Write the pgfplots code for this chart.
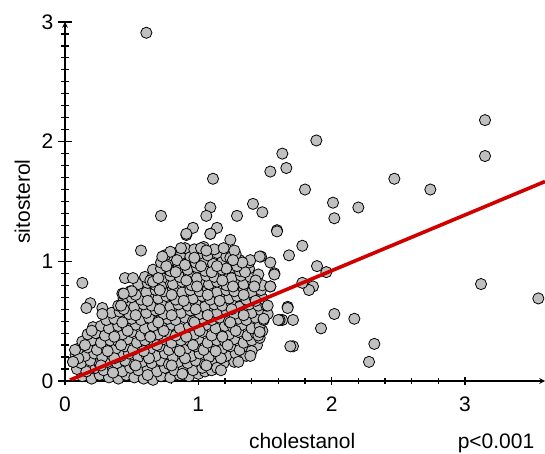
\documentclass[border=0pt]{standalone}
\usepackage{pgfplots}
\pgfplotsset{compat=1.18}
\usepackage{fontspec}
\setmainfont{Liberation Sans}
\definecolor{ptfill}{RGB}{192,192,192}
\definecolor{fitred}{RGB}{208,0,0}
\newcommand\lf{\fontsize{21bp}{25bp}\selectfont}
\pgfplotsset{base/.style={
  at={(65bp,73bp)}, anchor=south west,
  scale only axis, width=480bp, height=359bp,
  xmin=0, xmax=3.6, ymin=0, ymax=3,
  axis line style={-, line width=1.5bp},
  every tick/.style={line width=1.5bp, black},
  every minor tick/.style={line width=1.2bp, black},
  tick align=outside,
  xtick={0,1,2,3}, ytick={0,1,2,3},
  minor x tick num=4, minor y tick num=9,
  /pgf/number format/assume math mode=true,
  tick label style={font=\lf},
  clip=false, clip marker paths=true,
}}
\begin{document}
\begin{tikzpicture}
\useasboundingbox (0,0) rectangle (545bp,454bp);
\begin{axis}[base,
  axis x line=bottom, axis y line=none,
  major tick length=8bp, minor tick length=6bp,
  xticklabel style={anchor=north, inner sep=0pt, yshift=-12bp},
]
\addplot[only marks, mark=*, mark size=5.6bp,
  mark options={fill=ptfill, draw=black, line width=0.8bp}] coordinates {
(0.13,0.04)(0.20,0.02)(0.26,0.05)(0.33,0.03)(0.40,0.02)(0.46,0.05)(0.52,0.03)(0.59,0.02)(0.66,0.01)(0.72,0.04)(0.79,0.03)(0.86,0.05)(0.93,0.04)(1.00,0.06)(1.05,0.08)
(0.09,0.10)(0.16,0.08)(0.23,0.11)(0.29,0.09)(0.36,0.10)(0.43,0.08)(0.49,0.11)(0.55,0.09)(0.62,0.10)(0.69,0.08)(0.75,0.11)(0.82,0.09)(0.89,0.10)(0.96,0.09)(1.03,0.11)(1.10,0.09)(1.16,0.10)
(0.06,0.16)(0.12,0.15)(0.19,0.17)(0.26,0.14)(0.32,0.16)(0.39,0.15)(0.45,0.17)(0.52,0.14)(0.58,0.16)(0.65,0.15)(0.72,0.17)(0.78,0.14)(0.85,0.16)(0.92,0.15)(0.98,0.17)(1.05,0.14)(1.12,0.16)(1.19,0.15)(1.27,0.16)
(0.08,0.22)(0.15,0.21)(0.22,0.23)(0.28,0.20)(0.35,0.22)(0.42,0.21)(0.48,0.23)(0.55,0.20)(0.61,0.22)(0.68,0.21)(0.75,0.23)(0.81,0.20)(0.88,0.22)(0.95,0.21)(1.01,0.23)(1.08,0.20)(1.15,0.22)(1.21,0.21)(1.28,0.23)(1.36,0.21)
(0.10,0.27)(0.17,0.28)(0.24,0.26)(0.31,0.28)(0.38,0.27)(0.45,0.29)(0.51,0.26)(0.58,0.28)(0.64,0.27)(0.71,0.29)(0.78,0.26)(0.84,0.28)(0.91,0.27)(0.98,0.29)(1.04,0.26)(1.11,0.28)(1.18,0.27)(1.24,0.29)(1.31,0.26)(1.38,0.28)(1.44,0.30)
(0.13,0.33)(0.20,0.34)(0.27,0.32)(0.34,0.34)(0.40,0.33)(0.47,0.35)(0.54,0.32)(0.60,0.34)(0.67,0.33)(0.74,0.35)(0.80,0.32)(0.87,0.34)(0.94,0.33)(1.00,0.35)(1.07,0.32)(1.14,0.34)(1.20,0.33)(1.27,0.35)(1.34,0.32)(1.40,0.34)(1.46,0.36)
(0.17,0.39)(0.23,0.40)(0.30,0.38)(0.37,0.40)(0.43,0.39)(0.50,0.41)(0.57,0.38)(0.63,0.40)(0.70,0.39)(0.77,0.41)(0.83,0.38)(0.90,0.40)(0.97,0.39)(1.03,0.41)(1.10,0.38)(1.17,0.40)(1.23,0.39)(1.30,0.41)(1.37,0.38)(1.43,0.40)(1.48,0.42)
(0.21,0.45)(0.27,0.46)(0.33,0.44)(0.40,0.46)(0.46,0.45)(0.53,0.47)(0.60,0.44)(0.66,0.46)(0.73,0.45)(0.80,0.47)(0.86,0.44)(0.93,0.46)(1.00,0.45)(1.06,0.47)(1.13,0.44)(1.20,0.46)(1.26,0.45)(1.33,0.47)(1.40,0.44)(1.46,0.46)
(0.31,0.51)(0.37,0.52)(0.44,0.50)(0.50,0.52)(0.57,0.51)(0.63,0.53)(0.70,0.50)(0.77,0.52)(0.83,0.51)(0.90,0.53)(0.96,0.50)(1.03,0.52)(1.10,0.51)(1.16,0.53)(1.23,0.50)(1.30,0.52)(1.36,0.51)(1.43,0.53)(1.49,0.51)
(0.35,0.57)(0.41,0.58)(0.48,0.56)(0.54,0.58)(0.61,0.57)(0.68,0.59)(0.74,0.56)(0.81,0.58)(0.87,0.57)(0.94,0.59)(1.01,0.56)(1.07,0.58)(1.14,0.57)(1.21,0.59)(1.27,0.56)(1.34,0.58)(1.40,0.57)(1.47,0.59)(1.52,0.56)
(0.40,0.63)(0.46,0.64)(0.52,0.62)(0.59,0.64)(0.65,0.63)(0.72,0.65)(0.79,0.62)(0.85,0.64)(0.92,0.63)(0.98,0.65)(1.05,0.62)(1.12,0.64)(1.18,0.63)(1.25,0.65)(1.31,0.62)(1.38,0.64)(1.45,0.63)(1.51,0.63)
(0.44,0.69)(0.50,0.70)(0.57,0.68)(0.63,0.70)(0.70,0.69)(0.76,0.71)(0.83,0.68)(0.90,0.70)(0.96,0.69)(1.03,0.71)(1.09,0.68)(1.16,0.70)(1.23,0.69)(1.29,0.71)(1.36,0.68)(1.42,0.70)(1.48,0.69)
(0.49,0.75)(0.55,0.76)(0.61,0.74)(0.68,0.76)(0.74,0.75)(0.81,0.77)(0.88,0.74)(0.94,0.76)(1.01,0.75)(1.07,0.77)(1.14,0.74)(1.21,0.76)(1.27,0.75)(1.34,0.77)(1.40,0.74)(1.47,0.76)
(0.55,0.81)(0.62,0.82)(0.68,0.80)(0.75,0.82)(0.81,0.81)(0.88,0.83)(0.95,0.80)(1.01,0.82)(1.08,0.81)(1.14,0.83)(1.21,0.80)(1.28,0.82)(1.34,0.81)(1.41,0.83)(1.48,0.80)(1.54,0.79)
(0.60,0.87)(0.66,0.88)(0.73,0.86)(0.79,0.88)(0.86,0.87)(0.93,0.89)(0.99,0.86)(1.06,0.88)(1.12,0.87)(1.19,0.89)(1.25,0.86)(1.32,0.88)(1.39,0.87)(1.45,0.89)
(0.66,0.93)(0.72,0.94)(0.79,0.92)(0.85,0.94)(0.92,0.93)(0.99,0.95)(1.05,0.92)(1.12,0.94)(1.18,0.93)(1.25,0.95)(1.31,0.92)(1.38,0.94)
(0.72,0.99)(0.78,1.00)(0.85,0.98)(0.92,1.00)(0.98,0.99)(1.05,1.01)(1.11,0.98)(1.18,1.00)(1.25,0.99)(1.31,1.01)(1.38,0.99)
(0.80,1.05)(0.87,1.06)(0.94,1.04)(1.00,1.06)(1.07,1.05)(1.14,1.07)(1.21,1.04)(1.28,1.06)
(0.90,1.11)(0.97,1.10)(1.04,1.12)(1.12,1.10)(1.19,1.11)
(0.36,0.07)(0.62,0.05)(0.88,0.06)
(0.27,0.13)(0.53,0.13)(0.80,0.13)(1.06,0.13)
(0.10,0.19)(0.37,0.19)(0.63,0.19)(0.90,0.19)(1.17,0.19)
(0.32,0.25)(0.59,0.25)(0.86,0.25)(1.13,0.25)(1.40,0.25)
(0.15,0.30)(0.42,0.30)(0.69,0.30)(0.96,0.30)(1.22,0.30)
(0.37,0.37)(0.64,0.37)(0.91,0.37)(1.18,0.37)(1.45,0.38)
(0.20,0.42)(0.47,0.42)(0.74,0.42)(1.01,0.42)(1.28,0.42)
(0.43,0.49)(0.70,0.49)(0.97,0.49)(1.24,0.49)
(0.53,0.55)(0.80,0.55)(1.07,0.55)(1.34,0.55)
(0.44,0.60)(0.71,0.60)(0.98,0.60)(1.25,0.60)
(0.62,0.67)(0.89,0.67)(1.16,0.67)(1.43,0.67)
(0.53,0.72)(0.80,0.72)(1.07,0.72)(1.34,0.72)
(0.72,0.79)(0.99,0.79)(1.26,0.79)
(0.64,0.84)(0.91,0.84)(1.18,0.84)(1.43,0.84)
(0.83,0.91)(1.10,0.91)(1.35,0.91)
(0.76,0.96)(1.02,0.96)(1.29,0.96)
(0.97,1.03)(1.24,1.03)
(0.61,2.91)(1.63,1.90)(1.885,2.01)(1.54,1.75)(1.66,1.78)(1.11,1.69)(1.80,1.60)(2.01,1.49)(2.02,1.36)(1.41,1.48)(1.48,1.41)(1.09,1.45)(1.06,1.38)(0.72,1.38)(1.29,1.38)(0.96,1.28)(0.91,1.22)(1.14,1.28)(1.09,1.23)(1.59,1.26)(1.24,1.18)(1.78,1.13)(1.27,1.09)(1.68,1.05)(1.47,1.04)(1.54,0.99)(1.89,0.96)(1.96,0.91)(1.57,0.90)(1.39,1.01)(1.33,0.99)(1.26,1.01)(1.21,0.94)(1.14,0.96)(0.75,1.05)(0.79,1.08)(0.87,1.11)(1.02,1.11)(1.06,1.09)
(3.15,2.18)(3.15,1.88)(2.47,1.69)(2.74,1.60)(2.20,1.45)(3.12,0.81)(3.55,0.69)(2.02,0.56)(2.17,0.52)(1.86,0.79)(1.83,0.76)(1.78,0.82)(1.92,0.44)(1.71,0.51)(1.63,0.51)(1.67,0.62)(1.71,0.29)(2.32,0.31)(2.28,0.16)(1.61,0.51)(1.14,0.11)(1.17,0.09)(1.30,0.16)(1.39,0.21)(1.69,0.29)(1.67,0.61)(1.60,0.51)
(0.57,1.09)(0.13,0.82)(0.45,0.86)(0.51,0.86)(0.19,0.65)(0.16,0.61)(0.28,0.61)(0.28,0.56)(0.73,1.04)(0.075,0.26)(0.06,0.16)(0.43,0.73)(0.50,0.75)(0.66,0.83)(0.70,0.86)(0.84,1.01)(0.90,0.97)(0.42,0.63)(0.44,0.73)(0.71,0.76)(1.46,1.04)(1.57,0.89)(1.42,0.79)(1.54,0.79)(1.52,0.63)(1.49,0.52)(1.46,0.41)(0.91,1.23)(1.09,1.23)(1.59,1.25)
};
\addplot[fitred, line width=3.6bp] coordinates {(0.037,0.008)(3.6,1.667)};
\node[font=\lf, rotate=90, anchor=base] at (axis description cs:-0.073,0.5) {sitosterol};
\node[font=\lf, anchor=base] at (axis description cs:0.494,-0.187) {cholestanol};
\node[font=\lf, anchor=base east] at (axis description cs:0.985,-0.187) {p<0.001};
\end{axis}
\begin{axis}[base,
  axis x line=none, axis y line=left,
  major tick length=13bp, minor tick length=7bp,
  yticklabel style={anchor=east, inner sep=0pt, xshift=-5bp},
]
\end{axis}
\end{tikzpicture}
\end{document}
